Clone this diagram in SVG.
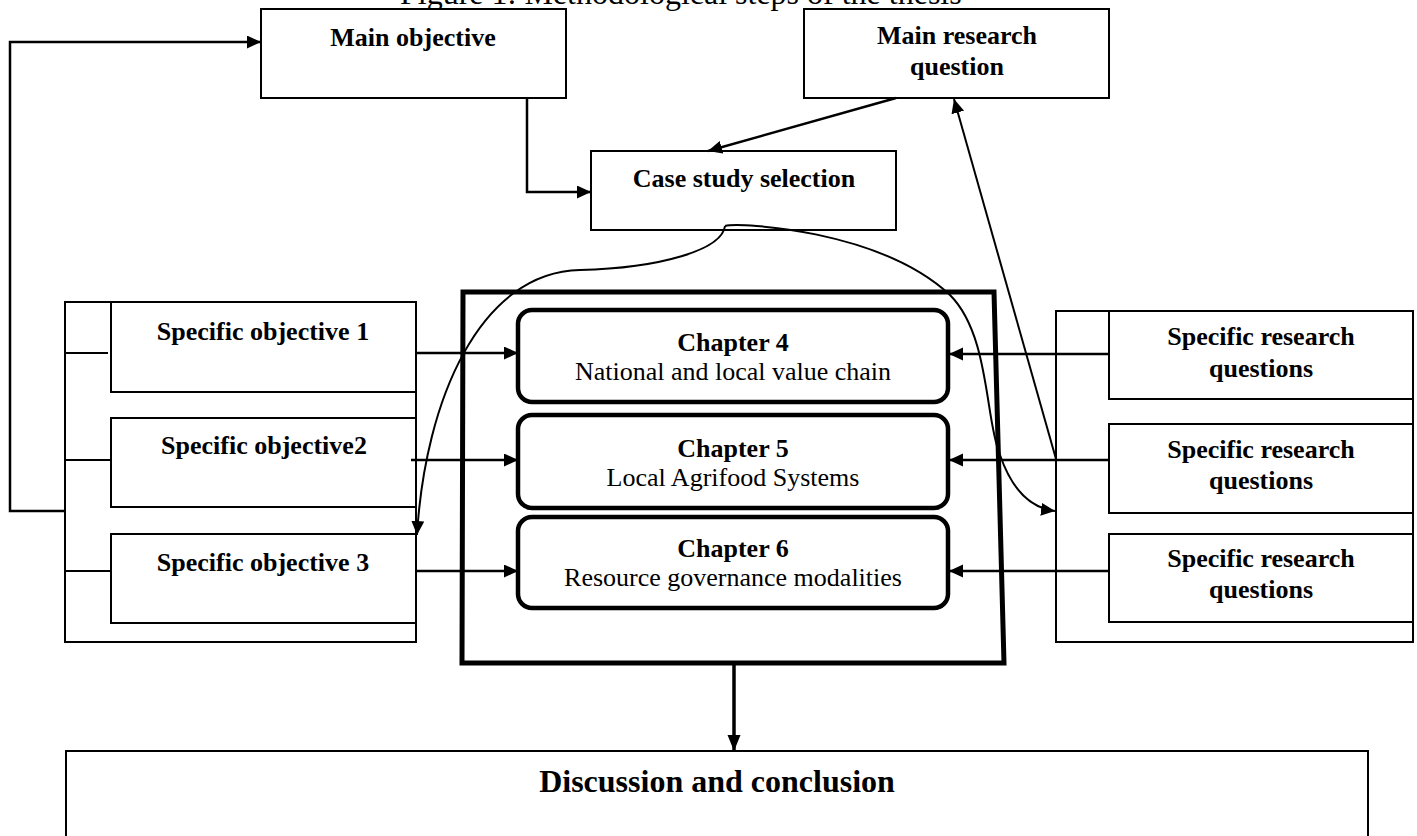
<svg xmlns="http://www.w3.org/2000/svg" width="1417" height="836" viewBox="0 0 1417 836">
<style>
text{font-family:"Liberation Serif","Times New Roman",serif;fill:#000;text-anchor:middle}
.b{font-weight:bold;font-size:26px}
.r{font-size:26px}
.box{fill:#fff;stroke:#000;stroke-width:2}
.ln{fill:none;stroke:#000;stroke-width:2}
.ch{fill:#fff;stroke:#000;stroke-width:4.5}
.con{fill:none;stroke:#000;stroke-width:2.5}
.thin{fill:none;stroke:#000;stroke-width:2}
</style>
<defs>
<marker id="ah" markerUnits="userSpaceOnUse" markerWidth="16" markerHeight="14" refX="14" refY="6.5" orient="auto">
<path d="M0,0 L14,6.5 L0,13 z" fill="#000"/>
</marker>
<marker id="ahb" markerUnits="userSpaceOnUse" markerWidth="18" markerHeight="14" refX="16" refY="6.5" orient="auto">
<path d="M0,0 L16,6.5 L0,13 z" fill="#000"/>
</marker>
</defs>
<rect width="1417" height="836" fill="#fff"/>
<text x="400" y="4" style="font-size:32px;text-anchor:start">Figure 1: Methodological steps of the thesis</text>

<g id="main-objective">
<rect class="box" x="261" y="9" width="305" height="89"/>
<text class="b" x="413" y="46">Main objective</text>
</g>
<g id="main-research-question">
<rect class="box" x="804" y="9" width="305" height="89"/>
<text class="b" x="957" y="44">Main research</text>
<text class="b" x="957" y="75">question</text>
</g>
<g id="case-study-selection">
<rect class="box" x="591" y="151" width="305" height="79"/>
<text class="b" x="744" y="187">Case study selection</text>
</g>

<g id="objectives-bracket">
<path class="ln" d="M65,302 L416,302 L416,642 L65,642 Z"/>
<path class="ln" d="M65,353 L108,353 M65,460 L111,460 M65,571 L111,571"/>
</g>
<g id="specific-objective-1">
<path class="ln" d="M111,302 L111,392 L416,392"/>
<text class="b" x="263" y="340">Specific objective 1</text>
</g>
<g id="specific-objective-2">
<path class="ln" d="M416,418 L111,418 L111,507 L416,507"/>
<text class="b" x="264" y="454">Specific objective2</text>
</g>
<g id="specific-objective-3">
<path class="ln" d="M416,534 L111,534 L111,623 L416,623"/>
<text class="b" x="263" y="571">Specific objective 3</text>
</g>

<g id="chapters-container">
<path d="M463,292 L994,292 L1004,663 L462,663 Z" fill="none" stroke="#000" stroke-width="5" stroke-linejoin="miter"/>
</g>
<g id="chapter-4">
<rect class="ch" x="518" y="310" width="430" height="92" rx="14"/>
<text class="b" x="733" y="351">Chapter 4</text>
<text class="r" x="733" y="380">National and local value chain</text>
</g>
<g id="chapter-5">
<rect class="ch" x="518" y="415" width="430" height="93" rx="14"/>
<text class="b" x="733" y="457">Chapter 5</text>
<text class="r" x="733" y="486">Local Agrifood Systems</text>
</g>
<g id="chapter-6">
<rect class="ch" x="518" y="517" width="430" height="91" rx="14"/>
<text class="b" x="733" y="557">Chapter 6</text>
<text class="r" x="733" y="586">Resource governance modalities</text>
</g>

<g id="questions-bracket">
<path class="ln" d="M1056,311 L1413,311 L1413,642 L1056,642 Z"/>
</g>
<g id="specific-research-questions-1">
<path class="ln" d="M1109,311 L1109,399 L1413,399"/>
<text class="b" x="1261" y="345">Specific research</text>
<text class="b" x="1261" y="377">questions</text>
</g>
<g id="specific-research-questions-2">
<path class="ln" d="M1413,424 L1109,424 L1109,513 L1413,513"/>
<text class="b" x="1261" y="458">Specific research</text>
<text class="b" x="1261" y="489">questions</text>
</g>
<g id="specific-research-questions-3">
<path class="ln" d="M1413,534 L1109,534 L1109,622 L1413,622"/>
<text class="b" x="1261" y="567">Specific research</text>
<text class="b" x="1261" y="598">questions</text>
</g>

<g id="discussion-and-conclusion">
<path class="ln" d="M66,840 L66,751 L1368,751 L1368,840"/>
<text x="717" y="792" style="font-size:32px;font-weight:bold">Discussion and conclusion</text>
</g>

<g id="connectors">
<path class="con" d="M65,511 L10,511 L10,42 L261,42" marker-end="url(#ah)"/>
<path class="con" d="M527,98 L527,192 L591,192" marker-end="url(#ah)"/>
<path class="con" d="M896,98 L708,151" marker-end="url(#ah)"/>
<path class="thin" d="M1056,459 L954,99" marker-end="url(#ah)"/>
<path class="thin" d="M725,226 C722,250 660,268 580,270 C480,272 425,400 417,535" marker-end="url(#ah)"/>
<path class="thin" d="M725,226 C740,222 880,230 950,295 C990,335 985,420 1000,455 C1012,490 1030,508 1055,511" marker-end="url(#ah)"/>
<path class="con" d="M417,353 L518,353" marker-end="url(#ah)"/>
<path class="con" d="M411,460 L518,460" marker-end="url(#ah)"/>
<path class="con" d="M417,571 L518,571" marker-end="url(#ah)"/>
<path class="con" d="M1109,354 L949,354" marker-end="url(#ah)"/>
<path class="con" d="M1109,460 L949,460" marker-end="url(#ah)"/>
<path class="con" d="M1109,571 L949,571" marker-end="url(#ah)"/>
<path d="M734,663 L734,751" fill="none" stroke="#000" stroke-width="3.5" marker-end="url(#ahb)"/>
</g>
</svg>
